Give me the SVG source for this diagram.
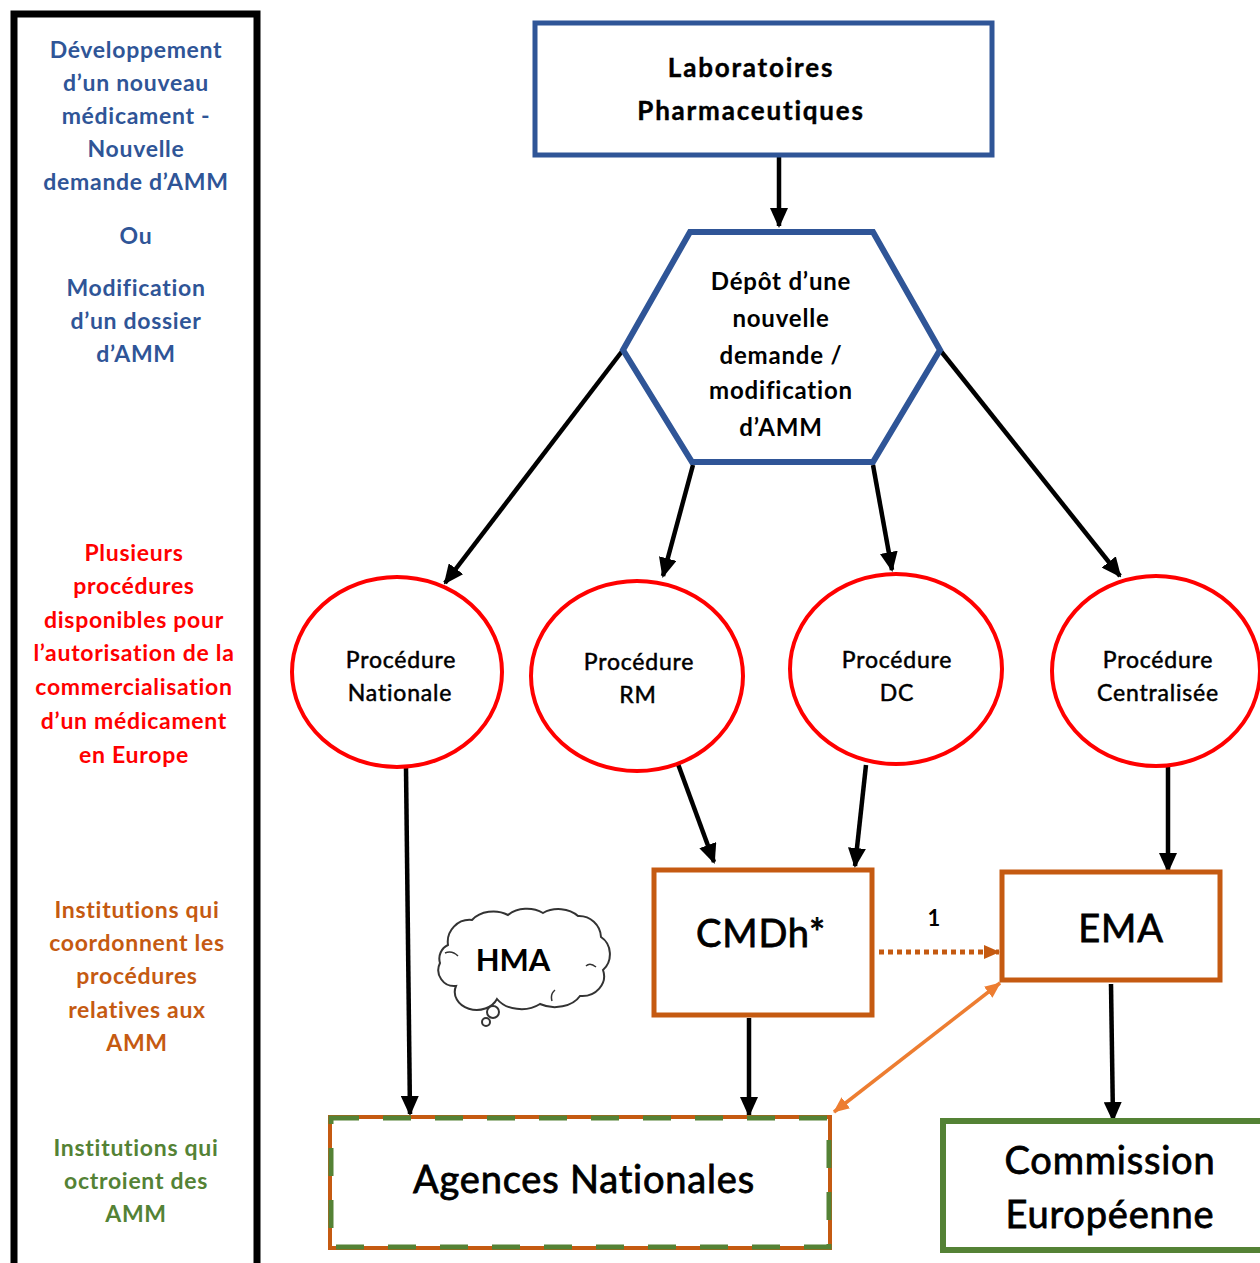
<svg xmlns="http://www.w3.org/2000/svg" width="1260" height="1263" viewBox="0 0 1260 1263">
<style>
text{font-family:Lato,"Open Sans","Liberation Sans",sans-serif;text-anchor:middle}
.side{font-size:23px;font-weight:bold;letter-spacing:0.7px}
.blue{fill:#2F5597}.red{fill:#FF0000}.orng{fill:#C55A11}.grn{fill:#548235}
.node{font-size:26px;font-weight:bold;fill:#000;stroke:#000;stroke-width:0.4;letter-spacing:1.8px}
.hex{font-size:24px;font-weight:bold;fill:#000;letter-spacing:0.8px}
.proc{font-size:23px;fill:#000;stroke:#000;stroke-width:0.5;letter-spacing:0.8px}
.big{font-size:38px;fill:#000;stroke:#000;stroke-width:0.8;letter-spacing:0.8px}
.conn{stroke:#000;stroke-width:4.5;fill:none}
</style>
<defs>
<marker id="ah" markerUnits="userSpaceOnUse" markerWidth="20" markerHeight="18" viewBox="0 0 20 18" refX="18" refY="9" orient="auto">
<path d="M0,0 L20,9 L0,18 Z" fill="#000"/>
</marker>
<marker id="aho" markerUnits="userSpaceOnUse" markerWidth="16" markerHeight="14" viewBox="0 0 16 14" refX="15" refY="7" orient="auto">
<path d="M0,0 L16,7 L0,14 Z" fill="#C55A11"/>
</marker>
<marker id="ahl" markerUnits="userSpaceOnUse" markerWidth="16" markerHeight="14" viewBox="0 0 16 14" refX="15" refY="7" orient="auto-start-reverse">
<path d="M0,0 L16,7 L0,14 Z" fill="#ED7D31"/>
</marker>
</defs>
<rect width="1260" height="1263" fill="#fff"/>

<g id="legend">
<rect x="14" y="14" width="243" height="1260" fill="none" stroke="#000" stroke-width="7"/>
<text class="side blue" x="136" y="58">Développement</text>
<text class="side blue" x="136" y="91">d’un nouveau</text>
<text class="side blue" x="136" y="124">médicament -</text>
<text class="side blue" x="136" y="157">Nouvelle</text>
<text class="side blue" x="136" y="190">demande d’AMM</text>
<text class="side blue" x="136" y="244">Ou</text>
<text class="side blue" x="136" y="296">Modification</text>
<text class="side blue" x="136" y="329">d’un dossier</text>
<text class="side blue" x="136" y="362">d’AMM</text>
<text class="side red" x="134" y="561">Plusieurs</text>
<text class="side red" x="134" y="594">procédures</text>
<text class="side red" x="134" y="628">disponibles pour</text>
<text class="side red" x="134" y="661">l’autorisation de la</text>
<text class="side red" x="134" y="695">commercialisation</text>
<text class="side red" x="134" y="729">d’un médicament</text>
<text class="side red" x="134" y="763">en Europe</text>
<text class="side orng" x="137" y="918">Institutions qui</text>
<text class="side orng" x="137" y="951">coordonnent les</text>
<text class="side orng" x="137" y="984">procédures</text>
<text class="side orng" x="137" y="1018">relatives aux</text>
<text class="side orng" x="137" y="1051">AMM</text>
<text class="side grn" x="136" y="1156">Institutions qui</text>
<text class="side grn" x="136" y="1189">octroient des</text>
<text class="side grn" x="136" y="1222">AMM</text>
</g>

<g id="connectors">
<line class="conn" x1="779" y1="157" x2="779" y2="226" marker-end="url(#ah)"/>
<line class="conn" x1="623" y1="350" x2="445" y2="583" marker-end="url(#ah)"/>
<line class="conn" x1="693" y1="465" x2="663" y2="576" marker-end="url(#ah)"/>
<line class="conn" x1="873" y1="465" x2="892" y2="570" marker-end="url(#ah)"/>
<line class="conn" x1="940" y1="350" x2="1120" y2="576" marker-end="url(#ah)"/>
<line class="conn" x1="406" y1="768" x2="410" y2="1114" marker-end="url(#ah)"/>
<line class="conn" x1="678" y1="764" x2="714" y2="862" marker-end="url(#ah)"/>
<line class="conn" x1="866" y1="765" x2="855" y2="866" marker-end="url(#ah)"/>
<line class="conn" x1="1168" y1="766" x2="1168" y2="871" marker-end="url(#ah)"/>
<line class="conn" x1="749" y1="1018" x2="749" y2="1115" marker-end="url(#ah)"/>
<line class="conn" x1="1111" y1="984" x2="1113" y2="1120" marker-end="url(#ah)"/>
<line x1="879" y1="952" x2="999" y2="952" stroke="#C55A11" stroke-width="5" stroke-dasharray="5,4" marker-end="url(#aho)"/>
<line x1="1000" y1="983" x2="834" y2="1112" stroke="#ED7D31" stroke-width="3.5" marker-start="url(#ahl)" marker-end="url(#ahl)"/>
<text x="934" y="926" style="font-size:22px;font-weight:bold">1</text>
</g>

<g id="laboratoires">
<rect x="535" y="23" width="457" height="132" fill="#fff" stroke="#2F5597" stroke-width="5"/>
<text class="node" x="751" y="77">Laboratoires</text>
<text class="node" x="751" y="120">Pharmaceutiques</text>
</g>

<g id="depot">
<polygon points="690,232 873,232 940,350 873,462 692,462 623,350" fill="#fff" stroke="#2F5597" stroke-width="6"/>
<text class="hex" x="781" y="290">Dépôt d’une</text>
<text class="hex" x="781" y="327">nouvelle</text>
<text class="hex" x="781" y="364">demande /</text>
<text class="hex" x="781" y="399">modification</text>
<text class="hex" x="781" y="436">d’AMM</text>
</g>

<g id="proc-nationale">
<ellipse cx="397" cy="672" rx="105" ry="95" fill="#fff" stroke="#FF0000" stroke-width="4"/>
<text class="proc" x="401" y="668">Procédure</text>
<text class="proc" x="400" y="701">Nationale</text>
</g>
<g id="proc-rm">
<ellipse cx="637" cy="676" rx="106" ry="95" fill="#fff" stroke="#FF0000" stroke-width="4"/>
<text class="proc" x="639" y="670">Procédure</text>
<text class="proc" x="638" y="703">RM</text>
</g>
<g id="proc-dc">
<ellipse cx="896" cy="669" rx="106" ry="95" fill="#fff" stroke="#FF0000" stroke-width="4"/>
<text class="proc" x="897" y="668">Procédure</text>
<text class="proc" x="897" y="701">DC</text>
</g>
<g id="proc-centralisee">
<ellipse cx="1156" cy="671" rx="104" ry="95" fill="#fff" stroke="#FF0000" stroke-width="4"/>
<text class="proc" x="1158" y="668">Procédure</text>
<text class="proc" x="1158" y="701">Centralisée</text>
</g>

<g id="cmdh">
<rect x="654" y="870" width="218" height="145" fill="#fff" stroke="#C55A11" stroke-width="5"/>
<text class="big" x="761" y="947">CMDh*</text>
</g>
<g id="ema">
<rect x="1002" y="872" width="218" height="108" fill="#fff" stroke="#C55A11" stroke-width="5"/>
<text class="big" x="1121" y="942">EMA</text>
</g>

<g id="hma">
<path d="M448,945 A22,22 0 0 1 472,920 A26,20 0 0 1 508,915 A26,20 0 0 1 543,913 A26,20 0 0 1 578,916 A22,22 0 0 1 601,937 A18,20 0 0 1 603,970 A22,20 0 0 1 580,996 A28,20 0 0 1 540,1004 A28,20 0 0 1 497,999 A22,18 0 0 1 456,986 A16,16 0 0 1 440,963 A15,15 0 0 1 448,945 Z" fill="#fff" stroke="#333" stroke-width="2"/>
<path d="M445,953 Q452,950 458,956 M596,967 Q590,962 586,966 M552,1001 Q550,994 555,990" fill="none" stroke="#333" stroke-width="1.5"/>
<circle cx="493" cy="1012" r="6" fill="#fff" stroke="#333" stroke-width="2"/>
<circle cx="486" cy="1022" r="4" fill="#fff" stroke="#333" stroke-width="2"/>
<text x="513" y="971" style="font-size:31px;font-weight:bold">HMA</text>
</g>

<g id="agences">
<rect x="330" y="1117" width="500" height="131" fill="#fff" stroke="#C55A11" stroke-width="4"/>
<rect x="331" y="1118" width="498" height="129" fill="none" stroke="#548235" stroke-width="5" stroke-dasharray="28,24"/>
<text class="big" x="584" y="1193">Agences Nationales</text>
</g>

<g id="commission">
<rect x="943" y="1121" width="330" height="129" fill="#fff" stroke="#548235" stroke-width="6"/>
<text class="big" x="1110" y="1174">Commission</text>
<text class="big" x="1110" y="1228">Européenne</text>
</g>
</svg>
